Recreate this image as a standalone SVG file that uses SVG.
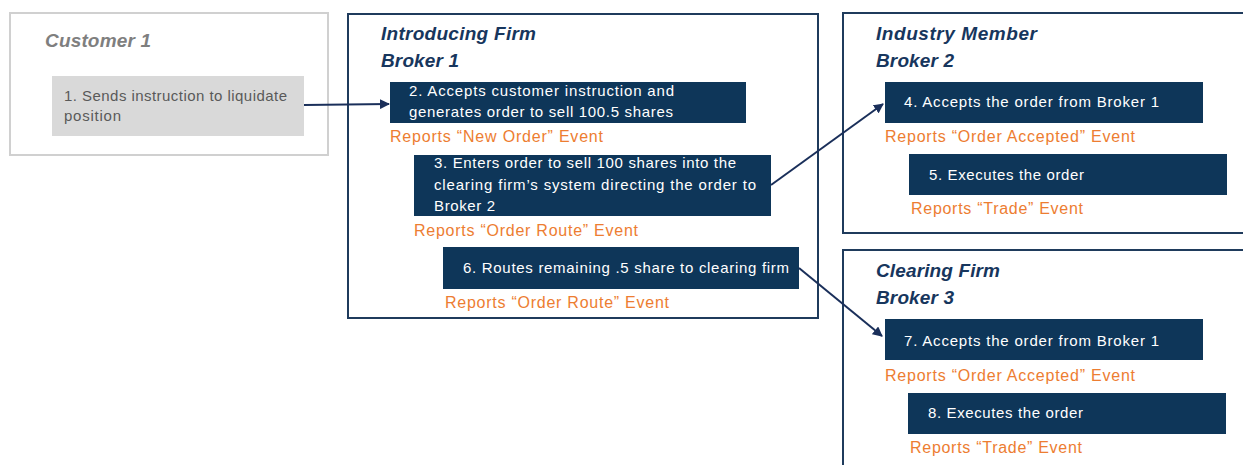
<svg xmlns="http://www.w3.org/2000/svg" width="1243" height="465" viewBox="0 0 1243 465">
<defs>
<style>
.frame{fill:#fff;stroke:#1f3b5c;stroke-width:2}
.cframe{fill:#fff;stroke:#d0d0d0;stroke-width:2}
.title{font-family:"Liberation Sans",Arial,sans-serif;font-weight:bold;font-style:italic;font-size:19px;fill:#17365d}
.ctitle{font-family:"Liberation Sans",Arial,sans-serif;font-weight:bold;font-style:italic;font-size:19px;fill:#7f7f7f}
.box{fill:#0e3659}
.gbox{fill:#d9d9d9}
.bt{font-family:"Liberation Sans",Arial,sans-serif;font-size:15px;fill:#fff}
.gt{font-family:"Liberation Sans",Arial,sans-serif;font-size:15px;fill:#595959}
.ev{font-family:"Liberation Sans",Arial,sans-serif;font-size:16px;fill:#ed7d31}
.conn{fill:none;stroke:#1a2f5a;stroke-width:2}
</style>
<marker id="ah" viewBox="0 0 10 10" refX="9" refY="5" markerWidth="5" markerHeight="5" orient="auto" markerUnits="strokeWidth">
<path d="M0,0 L10,5 L0,10 z" fill="#1a2f5a"/>
</marker>
</defs>
<rect width="1243" height="465" fill="#fff"/>

<g id="customer1">
<rect class="cframe" x="10" y="13" width="318" height="142"/>
<text class="ctitle" x="45" y="47" textLength="106">Customer 1</text>
<g id="step1">
<rect class="gbox" x="52" y="76" width="252" height="60"/>
<text class="gt" x="64" y="101" textLength="223">1. Sends instruction to liquidate</text>
<text class="gt" x="64" y="121" textLength="57">position</text>
</g>
</g>

<g id="broker1">
<rect class="frame" x="348" y="14" width="470" height="304"/>
<text class="title" x="381" y="40" textLength="155">Introducing Firm</text>
<text class="title" x="381" y="67" textLength="78">Broker 1</text>
<g id="step2">
<rect class="box" x="390" y="82" width="356" height="41"/>
<text class="bt" x="409" y="96" textLength="265">2. Accepts customer instruction and</text>
<text class="bt" x="409" y="117" textLength="264">generates order to sell 100.5 shares</text>
<text class="ev" x="390" y="142" textLength="213">Reports “New Order” Event</text>
</g>
<g id="step3">
<rect class="box" x="414" y="155" width="357" height="61"/>
<text class="bt" x="434" y="168" textLength="302">3. Enters order to sell 100 shares into the</text>
<text class="bt" x="434" y="190" textLength="322">clearing firm’s system directing the order to</text>
<text class="bt" x="434" y="211" textLength="61">Broker 2</text>
<text class="ev" x="414" y="236" textLength="224">Reports “Order Route” Event</text>
</g>
<g id="step6">
<rect class="box" x="443" y="247" width="356" height="42"/>
<text class="bt" x="463" y="273" textLength="326">6. Routes remaining .5 share to clearing firm</text>
<text class="ev" x="445" y="308" textLength="224">Reports “Order Route” Event</text>
</g>
</g>

<g id="broker2">
<rect class="frame" x="843" y="13" width="410" height="220"/>
<text class="title" x="876" y="40" textLength="161">Industry Member</text>
<text class="title" x="876" y="67" textLength="78">Broker 2</text>
<g id="step4">
<rect class="box" x="885" y="82" width="318" height="41"/>
<text class="bt" x="904" y="107" textLength="255">4. Accepts the order from Broker 1</text>
<text class="ev" x="885" y="142" textLength="250">Reports “Order Accepted” Event</text>
</g>
<g id="step5">
<rect class="box" x="909" y="154" width="318" height="41"/>
<text class="bt" x="929" y="180" textLength="155">5. Executes the order</text>
<text class="ev" x="911" y="214" textLength="172">Reports “Trade” Event</text>
</g>
</g>

<g id="broker3">
<rect class="frame" x="843" y="250" width="410" height="230"/>
<text class="title" x="876" y="277" textLength="124">Clearing Firm</text>
<text class="title" x="876" y="304" textLength="78">Broker 3</text>
<g id="step7">
<rect class="box" x="885" y="319" width="318" height="41"/>
<text class="bt" x="904" y="346" textLength="255">7. Accepts the order from Broker 1</text>
<text class="ev" x="885" y="381" textLength="250">Reports “Order Accepted” Event</text>
</g>
<g id="step8">
<rect class="box" x="908" y="393" width="318" height="41"/>
<text class="bt" x="928" y="418" textLength="155">8. Executes the order</text>
<text class="ev" x="910" y="453" textLength="172">Reports “Trade” Event</text>
</g>
</g>

<g id="connectors">
<line class="conn" x1="304" y1="105" x2="389" y2="104" marker-end="url(#ah)"/>
<line class="conn" x1="771" y1="185" x2="883" y2="104" marker-end="url(#ah)"/>
<line class="conn" x1="799" y1="268" x2="882" y2="336" marker-end="url(#ah)"/>
</g>
</svg>
